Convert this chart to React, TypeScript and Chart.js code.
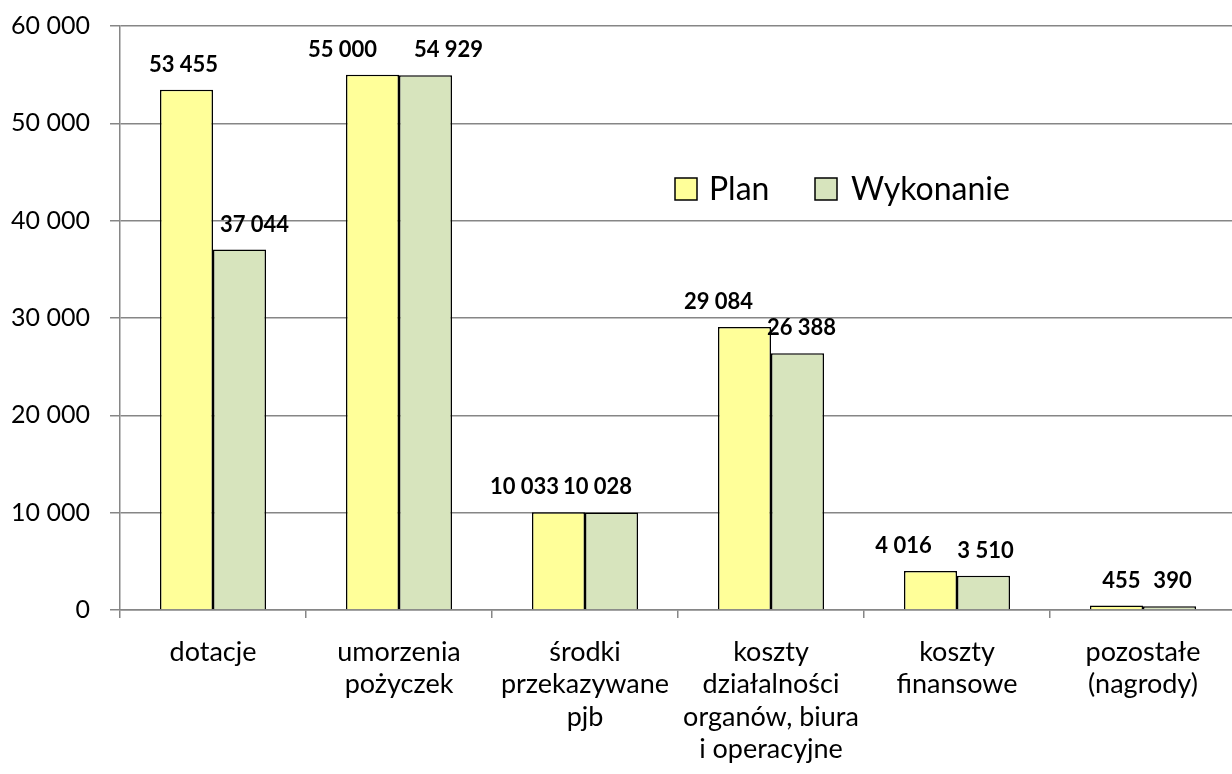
import React, { useEffect, useRef } from "react";
import { Chart, registerables } from "chart.js";

Chart.register(...registerables);

const categories: string[][] = [
  ["dotacje"],
  ["umorzenia", "pożyczek"],
  ["środki", "przekazywane", "pjb"],
  ["koszty", "działalności", "organów, biura", "i operacyjne"],
  ["koszty", "finansowe"],
  ["pozostałe", "(nagrody)"],
];
const planValues = [53455, 55000, 10033, 29084, 4016, 455];
const wykonanieValues = [37044, 54929, 10028, 26388, 3510, 390];
const seriesNames = ["Plan", "Wykonanie"];
const seriesColors = ["#FFFF99", "#D7E4BD"];
// per-label horizontal nudges (style only)
const planLabelDx = [-3, -30, -34, -26, -27, 5];
const wykLabelDx = [15, 23, -14, 4, 2, 3];

const FONT = "Lato, 'Open Sans', sans-serif";

const fmt = (v: number) => String(v).replace(/\B(?=(\d{3})+(?!\d))/g, " ");

const labelPlugin = {
  id: "barLabels",
  afterDatasetsDraw(chart: any) {
    const ctx = chart.ctx;
    ctx.save();
    ctx.font = `bold 22px ${FONT}`;
    ctx.fillStyle = "#000";
    ctx.textAlign = "center";
    ctx.textBaseline = "middle";
    const dxs = [planLabelDx, wykLabelDx];
    chart.data.datasets.forEach((ds: any, di: number) => {
      const meta = chart.getDatasetMeta(di);
      meta.data.forEach((el: any, i: number) => {
        ctx.fillText(fmt(ds.data[i]), el.x + dxs[di][i], el.y - 25);
      });
    });
    ctx.restore();
  },
};

const legendPlugin = {
  id: "innerLegend",
  afterDraw(chart: any) {
    const ctx = chart.ctx;
    ctx.save();
    ctx.font = `32px ${FONT}`;
    ctx.textBaseline = "middle";
    ctx.textAlign = "left";
    const y = 189;
    const boxes = [675, 815];
    const texts = [709, 851];
    seriesNames.forEach((name, i) => {
      const x = boxes[i];
      ctx.fillStyle = seriesColors[i];
      ctx.fillRect(x, y - 11, 22, 22);
      ctx.strokeStyle = "#000";
      ctx.lineWidth = 1.5;
      ctx.strokeRect(x, y - 11, 22, 22);
      ctx.fillStyle = "#000";
      ctx.fillText(name, texts[i], y + 1);
    });
    ctx.restore();
  },
};

export default function App() {
  const ref = useRef<HTMLCanvasElement>(null);
  useEffect(() => {
    document.body.style.margin = "0";
    document.body.style.overflow = "hidden";
    const chart = new Chart(ref.current!, {
      type: "bar",
      data: {
        labels: categories,
        datasets: [
          {
            label: seriesNames[0],
            data: planValues,
            backgroundColor: seriesColors[0],
            borderColor: "#000",
            borderWidth: 1.5,
            categoryPercentage: 0.57,
            barPercentage: 1,
          },
          {
            label: seriesNames[1],
            data: wykonanieValues,
            backgroundColor: seriesColors[1],
            borderColor: "#000",
            borderWidth: 1.5,
            categoryPercentage: 0.57,
            barPercentage: 1,
          },
        ],
      },
      options: {
        animation: false,
        responsive: false,
        maintainAspectRatio: false,
        layout: { autoPadding: false, padding: { top: 26, right: 4, left: 0, bottom: 0 } },
        plugins: { legend: { display: false }, tooltip: { enabled: false } },
        scales: {
          x: {
            offset: true,
            grid: {
              offset: true,
              drawOnChartArea: false,
              drawTicks: true,
              tickLength: 8,
              color: "#868686",
              lineWidth: 1.5,
            },
            border: { color: "#868686", width: 1.5 },
            ticks: {
              color: "#000",
              font: { family: FONT, size: 27, lineHeight: 1.2 },
              padding: 18,
              maxRotation: 0,
              autoSkip: false,
            },
            afterFit(scale: any) {
              scale.height = 164;
              scale.paddingLeft = 0;
              scale.paddingRight = 0;
            },
          },
          y: {
            min: 0,
            max: 60000,
            ticks: {
              stepSize: 10000,
              color: "#000",
              font: { family: FONT, size: 25 },
              padding: 20,
              callback: (v: any) => fmt(Number(v)),
            },
            grid: { color: "#868686", lineWidth: 1.5, tickLength: 10 },
            border: { color: "#868686", width: 1.5 },
            afterFit(scale: any) {
              scale.width = 120;
              scale.paddingTop = 0;
              scale.paddingBottom = 0;
            },
          },
        },
      },
      plugins: [labelPlugin, legendPlugin],
    });
    return () => chart.destroy();
  }, []);
  return (
    <div style={{ width: 1232, height: 774, overflow: "hidden" }}>
      <canvas ref={ref} width={1240} height={774} style={{ display: "block" }} />
    </div>
  );
}
